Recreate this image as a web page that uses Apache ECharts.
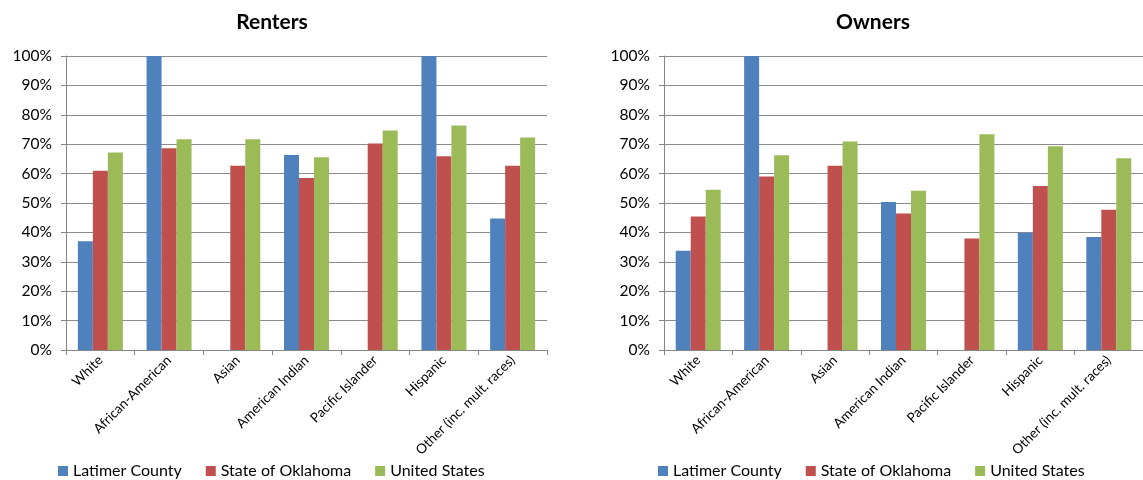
<!DOCTYPE html>
<html>
<head>
<meta charset="utf-8">
<script src="https://cdn.jsdelivr.net/npm/echarts@6/dist/echarts.min.js"></script>
<style>
  html, body { margin: 0; padding: 0; background: #fff; }
  #chart { width: 1143px; height: 480px; }
</style>
</head>
<body>
<div id="chart"></div>
<script>
// categories and series (percent)
var categories = ['White', 'African-American', 'Asian', 'American Indian', 'Pacific Islander', 'Hispanic', 'Other (inc. mult. races)']
var seriesNames = ['Latimer County', 'State of Oklahoma', 'United States']
var yTicks = [0, 10, 20, 30, 40, 50, 60, 70, 80, 90, 100]

var rentersLatimer = [37, 100, 0, 66.3, 0, 100, 44.7]
var rentersOklahoma = [61, 68.6, 62.7, 58.5, 70.2, 65.9, 62.7]
var rentersUS = [67.2, 71.7, 71.7, 65.6, 74.7, 76.4, 72.3]

var ownersLatimer = [33.8, 100, 0, 50.3, 0, 39.9, 38.4]
var ownersOklahoma = [45.4, 59, 62.7, 46.4, 37.9, 55.8, 47.7]
var ownersUS = [54.5, 66.2, 70.9, 54.2, 73.4, 69.3, 65.2]

var colors = ['#4F81BD', '#C0504D', '#9BBB59']
var font = 'Lato, "Open Sans", sans-serif'

function xAxisFor(idx) {
  return {
    type: 'category',
    gridIndex: idx,
    data: categories,
    axisLine: { lineStyle: { color: '#868686' } },
    axisTick: { show: true, length: 5, lineStyle: { color: '#868686' } },
    axisLabel: { interval: 0, rotate: 45, fontSize: 13.5, color: '#000', fontFamily: font, margin: 8 }
  }
}
function yAxisFor(idx) {
  return {
    type: 'value',
    gridIndex: idx,
    min: yTicks[0],
    max: yTicks[yTicks.length - 1],
    interval: 10,
    axisLine: { show: true, lineStyle: { color: '#868686' } },
    axisTick: { show: true, length: 5, lineStyle: { color: '#868686' } },
    splitLine: { lineStyle: { color: '#8c8c8c', width: 1 } },
    axisLabel: { formatter: '{value}%', fontSize: 15.5, color: '#000', fontFamily: font, margin: 14 }
  }
}
function barSeries(name, data, idx, color) {
  return {
    name: name,
    type: 'bar',
    xAxisIndex: idx,
    yAxisIndex: idx,
    data: data,
    barWidth: 15,
    barGap: '0%',
    itemStyle: { color: color },
    emphasis: { disabled: true }
  }
}

var myChart = echarts.init(document.getElementById('chart'))
myChart.setOption({
  animation: false,
  color: colors,
  title: [
    { text: 'Renters', left: 267, top: 7, textAlign: 'center', textStyle: { fontSize: 21, fontWeight: 'bold', color: '#000', fontFamily: font } },
    { text: 'Owners', left: 868, top: 7, textAlign: 'center', textStyle: { fontSize: 21, fontWeight: 'bold', color: '#000', fontFamily: font } }
  ],
  legend: [
    { data: seriesNames, left: 53, top: 458, icon: 'rect', itemWidth: 10, itemHeight: 10, itemGap: 24,
      textStyle: { fontSize: 16, color: '#000', fontFamily: font } },
    { data: seriesNames, left: 653, top: 458, icon: 'rect', itemWidth: 10, itemHeight: 10, itemGap: 24,
      textStyle: { fontSize: 16, color: '#000', fontFamily: font } }
  ],
  grid: [
    { left: 66, top: 56, width: 481, height: 294 },
    { left: 664, top: 56, width: 481, height: 294 }
  ],
  xAxis: [xAxisFor(0), xAxisFor(1)],
  yAxis: [yAxisFor(0), yAxisFor(1)],
  series: [
    barSeries(seriesNames[0], rentersLatimer, 0, colors[0]),
    barSeries(seriesNames[1], rentersOklahoma, 0, colors[1]),
    barSeries(seriesNames[2], rentersUS, 0, colors[2]),
    barSeries(seriesNames[0], ownersLatimer, 1, colors[0]),
    barSeries(seriesNames[1], ownersOklahoma, 1, colors[1]),
    barSeries(seriesNames[2], ownersUS, 1, colors[2])
  ]
})
</script>
</body>
</html>
